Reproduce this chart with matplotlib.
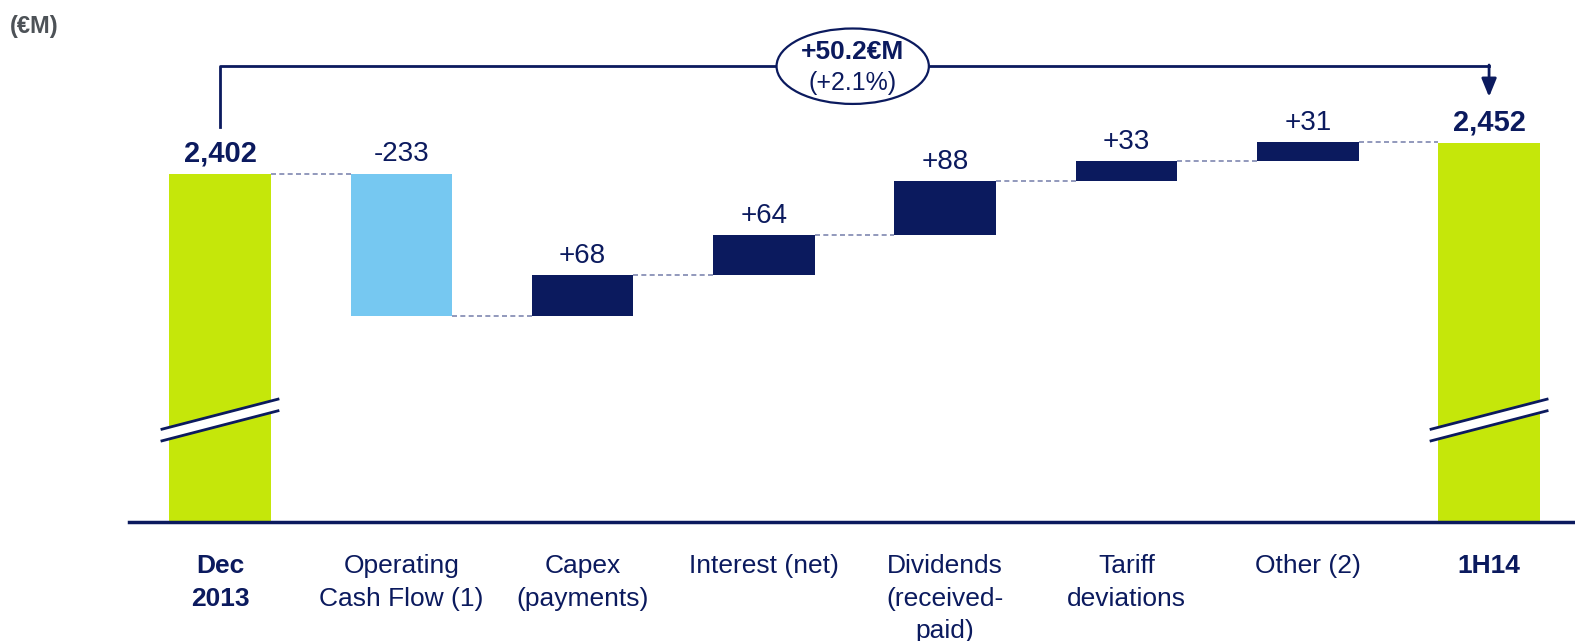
import matplotlib
matplotlib.use("Agg")
import matplotlib.pyplot as plt
from matplotlib.patches import Ellipse, Polygon

# data
categories = ["Dec\n2013", "Operating\nCash Flow (1)", "Capex\n(payments)", "Interest (net)",
              "Dividends\n(received-\npaid)", "Tariff\ndeviations", "Other (2)", "1H14"]
start_value = 2402
deltas = [-233, 68, 64, 88, 33, 31]
end_value = 2452
change_text = "+50.2€M"
change_pct = "(+2.1%)"

navy = "#0b1a5e"
green = "#c5e70a"
light_blue = "#76c8f1"
dash_col = "#7f87b0"

fam = ["Liberation Sans", "DejaVu Sans"]

fig = plt.figure(figsize=(15.75, 6.41), dpi=100)
ax = fig.add_axes([128.6 / 1575, 1 - 522.4 / 641, 1 - 128.6 / 1575, 522.4 / 641])
ax.set_xlim(-0.504, 7.474)
ybot, ytop = 1833, 2685
ax.set_ylim(ybot, ytop)
for s in ax.spines.values():
    s.set_visible(False)
ax.set_yticks([])

w = 0.56
n = len(categories)

# total bars
ax.bar(0, start_value - ybot, bottom=ybot, width=w, color=green, zorder=2)
ax.bar(n - 1, end_value - ybot, bottom=ybot, width=w, color=green, zorder=2)
ax.text(0, start_value + 10, f"{start_value:,}", ha="center", va="bottom",
        fontsize=21, fontweight="bold", color=navy, family=fam)
ax.text(n - 1, end_value + 10, f"{end_value:,}", ha="center", va="bottom",
        fontsize=21, fontweight="bold", color=navy, family=fam)

# delta bars
level = start_value
levels = [level]
for i, d in enumerate(deltas, start=1):
    lo = min(level, level + d)
    col = light_blue if d < 0 else navy
    ax.bar(i, abs(d), bottom=lo, width=w, color=col, zorder=2)
    top = max(level, level + d)
    ax.text(i, top + 10, f"{d:+d}", ha="center", va="bottom",
            fontsize=20, color=navy, family=fam)
    level = level + d
    levels.append(level)

# dashed connectors
for i, lv in enumerate(levels):
    ax.plot([i + w / 2, i + 1 - w / 2], [lv, lv], color=dash_col, lw=1.2,
            ls=(0, (3, 2)), zorder=1)

# baseline
ax.axhline(ybot + 1, color=navy, lw=2.5, zorder=3, clip_on=False)

# axis break marks on the total bars
for xc in [0, n - 1]:
    x0, x1 = xc - 0.32, xc + 0.32
    poly = Polygon([[x0, 1966], [x1, 2015], [x1, 2034], [x0, 1985]],
                   closed=True, facecolor="white", edgecolor="none", zorder=4)
    ax.add_patch(poly)
    ax.plot([x0, x1], [1985, 2034], color=navy, lw=2, zorder=5)
    ax.plot([x0, x1], [1966, 2015], color=navy, lw=2, zorder=5)

# bracket with arrow
yb = 2577
ax.plot([0, 0, n - 1], [2478, yb, yb], color=navy, lw=2, zorder=3)
ax.annotate("", xy=(n - 1, 2527), xytext=(n - 1, yb + 2),
            arrowprops=dict(arrowstyle="-|>,head_width=0.45,head_length=1.1",
                            color=navy, lw=2, shrinkA=0, shrinkB=0))
ell = Ellipse((3.49, yb), 0.84, 123, facecolor="white", edgecolor=navy, lw=1.6, zorder=6)
ax.add_patch(ell)
ax.text(3.49, yb + 23, change_text, ha="center", va="center", fontsize=19,
        fontweight="bold", color=navy, family=fam, zorder=7)
ax.text(3.49, yb - 28, change_pct, ha="center", va="center", fontsize=18,
        color=navy, family=fam, zorder=7)

# category labels
ax.set_xticks(range(n))
ax.set_xticklabels(categories, family=fam, fontsize=19, color=navy, linespacing=1.45)
for i in [0, n - 1]:
    ax.get_xticklabels()[i].set_fontweight("bold")
ax.tick_params(axis="x", length=0, pad=23)

fig.text(10 / 1575, 1 - 26 / 641, "(€M)", fontsize=17, fontweight="semibold",
         color="#4d5257", va="center", family=fam)

fig.savefig("out.png", dpi=100)
